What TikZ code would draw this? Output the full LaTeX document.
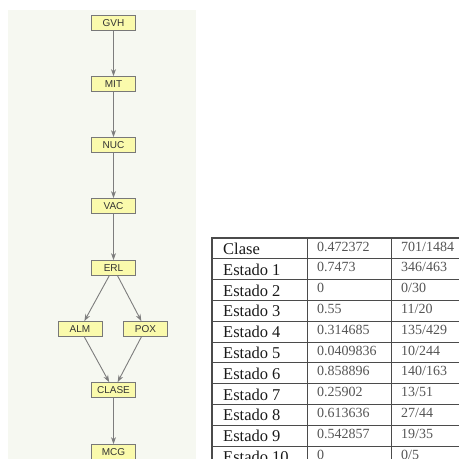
\documentclass[tikz,border=0pt]{standalone}
\usepackage{fontspec}
\setmainfont{Liberation Serif}
\newfontfamily\boxfont{Liberation Sans}
\usetikzlibrary{arrows.meta}
\definecolor{panelbg}{RGB}{246,248,241}
\definecolor{boxfill}{RGB}{250,250,172}
\definecolor{boxline}{RGB}{120,120,120}
\definecolor{arrowgray}{RGB}{125,125,125}
\definecolor{gridline}{RGB}{75,75,75}
\definecolor{valtext}{RGB}{85,85,85}
\begin{document}
\begin{tikzpicture}[x=1pt,y=-1pt,
	attr/.style={draw=boxline,fill=boxfill,line width=0.8pt,minimum width=44pt,minimum height=15pt,inner sep=0pt,font=\boxfont\fontsize{10}{10}\selectfont,text=black!80},
	link/.style={draw=arrowgray,line width=0.9pt,-{Stealth[length=7pt,width=5pt]}},
	lab/.style={anchor=base west,inner sep=0pt,font=\fontsize{16.5}{16.5}\selectfont,text=black!90},
	val/.style={anchor=base west,inner sep=0pt,font=\fontsize{14}{14}\selectfont,text=valtext}]
	\useasboundingbox (0,0) rectangle (459,459);
	\fill[panelbg] (8,10) rectangle (196,459);
	% graph
	\node[attr] (gvh) at (113.5,23) {GVH};
	\node[attr] (mit) at (113.5,84) {MIT};
	\node[attr] (nuc) at (113.5,145) {NUC};
	\node[attr] (vac) at (113.5,206) {VAC};
	\node[attr] (erl) at (113.5,268) {ERL};
	\node[attr] (alm) at (80,329) {ALM};
	\node[attr] (pox) at (145.5,329) {POX};
	\node[attr] (clase) at (113.5,390) {CLASE};
	\node[attr] (mcg) at (113.5,452) {MCG};
	\draw[link] (gvh) -- (mit); \draw[link] (mit) -- (nuc); \draw[link] (nuc) -- (vac);
	\draw[link] (vac) -- (erl); \draw[link] (erl) -- (alm); \draw[link] (erl) -- (pox);
	\draw[link] (alm) -- (clase); \draw[link] (pox) -- (clase); \draw[link] (clase) -- (mcg);
	% table
	\foreach \r in {1,...,10} \draw[gridline,line width=1pt] (212,{238+\r*20.8}) -- (459.5,{238+\r*20.8});
	\draw[gridline,line width=1pt] (307,238) -- (307,{238+11*20.8}) (391,238) -- (391,{238+11*20.8});
	\draw[gridline,line width=1.4pt] (212,{238+11*20.8}) -- (212,238) -- (459.5,238) -- (459.5,{238+11*20.8});
	\foreach \name/\p/\f [count=\i from 0] in {Clase/0.472372/{701/1484},Estado 1/0.7473/{346/463},Estado 2/0/{0/30},Estado 3/0.55/{11/20},Estado 4/0.314685/{135/429},Estado 5/0.0409836/{10/244},Estado 6/0.858896/{140/163},Estado 7/0.25902/{13/51},Estado 8/0.613636/{27/44},Estado 9/0.542857/{19/35},Estado 10/0/{0/5}}{
		\node[lab] (lab\i) at (223,{254.5+\i*20.8}) {\name};
		\node[val] (val\i) at (317,{251+\i*20.8}) {\p};
		\node[val] (frac\i) at (401,{251+\i*20.8}) {\f};
	}
\end{tikzpicture}
\end{document}
